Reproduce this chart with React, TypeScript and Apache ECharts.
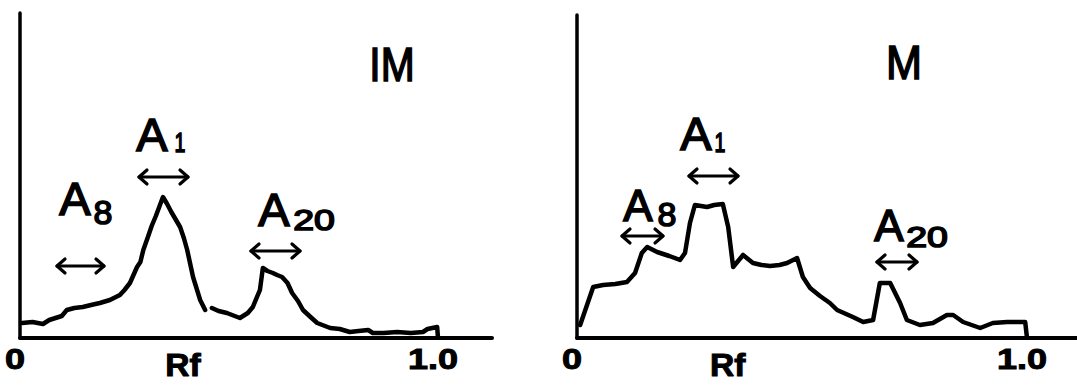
import React, { useEffect, useRef } from "react";
import * as echarts from "echarts";

// Left panel (IM) densitometry trace
const leftRf = [0.005, 0.03, 0.055, 0.07, 0.085, 0.1, 0.112, 0.13, 0.15, 0.17, 0.191, 0.215, 0.239, 0.25, 0.263, 0.28, 0.288, 0.295, 0.306, 0.315, 0.325, 0.342, 0.352, 0.362, 0.383, 0.392, 0.4, 0.414, 0.431, 0.443, 0.451, 0.459, 0.475, 0.495, 0.526, 0.545, 0.557, 0.574, 0.581, 0.592, 0.605, 0.615, 0.627, 0.64, 0.651, 0.665, 0.677, 0.695, 0.711, 0.742, 0.765, 0.789, 0.81, 0.833, 0.844, 0.87, 0.902, 0.935, 0.964, 0.975, 0.998, 1.0];
const leftDensity = [15, 16, 14, 18, 20, 22, 28, 30, 31, 33, 35, 38, 43, 48, 55, 71, 76, 88, 101, 112, 122, 141, 134, 126, 111, 100, 88, 61, 38, 28, null, 30, 27, 25, 20, 25, 31, 48, 70, 67, 65, 63, 61, 55, 45, 37, 28, 21, 15, 10, 9, 6, 7, 8, 5, 5, 6, 5, 6, 9, 11, 0];

// Right panel (M) densitometry trace
const rightRf = [0.007, 0.036, 0.058, 0.085, 0.111, 0.129, 0.144, 0.156, 0.178, 0.205, 0.229, 0.24, 0.251, 0.262, 0.289, 0.305, 0.324, 0.336, 0.347, 0.369, 0.391, 0.41, 0.429, 0.45, 0.467, 0.489, 0.502, 0.518, 0.54, 0.562, 0.578, 0.613, 0.636, 0.658, 0.673, 0.696, 0.718, 0.733, 0.762, 0.791, 0.822, 0.836, 0.858, 0.896, 0.924, 0.956, 0.996, 1.0];
const rightDensity = [13, 51, 53, 54, 56, 65, 85, 91, 86, 82, 78, 85, 115, 133, 131, 133, 134, 111, 71, 83, 75, 73, 72, 73, 75, 80, 61, 50, 42, 35, 28, 21, 16, 18, 55, 55, 35, 18, 13, 15, 23, 23, 16, 10, 15, 16, 16, 0];

const tickValues = [0, 1.0];
const tickLabels = ["0", "1.0"];
const axisTitle = "Rf";
const axisTitlePos = [0.39, 0.335];
const panelTitles = ["IM", "M"];

const FONT = "'Liberation Sans', Arial, sans-serif";

function pairs(xs: number[], ys: (number | null)[]) {
  return xs.map((x, i) => [x, ys[i] == null ? "-" : ys[i]]);
}

function txt(x: number, y: number, text: string, size: number, scaleX = 1, bold = false, stroke = 1.6) {
  return {
    type: "text",
    x,
    y,
    scaleX,
    silent: true,
    style: {
      text,
      fontSize: size,
      fontFamily: FONT,
      fontWeight: bold ? "bold" : "normal",
      fill: "#000",
      stroke: "#000",
      lineWidth: stroke,
      align: "center",
      verticalAlign: "middle",
      textAlign: "center",
      textVerticalAlign: "middle",
    },
  };
}

function arrow(x1: number, x2: number, y: number) {
  const st = { stroke: "#000", lineWidth: 3.2, fill: null, lineCap: "round", lineJoin: "round" };
  return [
    { type: "line", silent: true, shape: { x1, y1: y, x2, y2: y }, style: st },
    { type: "polyline", silent: true, shape: { points: [[x1 + 8, y - 7], [x1, y], [x1 + 8, y + 7]] }, style: st },
    { type: "polyline", silent: true, shape: { points: [[x2 - 8, y - 7], [x2, y], [x2 - 8, y + 7]] }, style: st },
  ];
}

function xAxis(gridIndex: number, max: number) {
  return {
    type: "value",
    gridIndex,
    min: 0,
    max,
    axisLine: { show: true, onZero: false, lineStyle: { color: "#000", width: 4 } },
    axisTick: { show: false },
    splitLine: { show: false },
    axisLabel: { show: false },
  };
}

function yAxis(gridIndex: number, max: number) {
  return {
    type: "value",
    gridIndex,
    min: 0,
    max,
    axisLine: { show: true, lineStyle: { color: "#000", width: 3.5 } },
    axisTick: { show: false },
    axisLabel: { show: false },
    splitLine: { show: false },
  };
}

export default function App() {
  const ref = useRef<HTMLDivElement>(null);
  useEffect(() => {
    if (!ref.current) return;
    const chart = echarts.init(ref.current, null, { renderer: "svg" });
    const lineStyle = { color: "#000", width: 4.5, join: "round", cap: "round" };
    const annotations = [
      // left panel
      txt(392, 64, panelTitles[0], 48, 0.85),
      txt(152, 134, "A", 47),
      txt(180, 142, "1", 28, 0.7),
      ...arrow(139, 188, 177),
      txt(75, 198, "A", 47),
      txt(103, 212, "8", 34),
      ...arrow(57, 104, 266),
      txt(274, 209, "A", 47),
      txt(314, 219, "20", 30, 1.25),
      ...arrow(251, 300, 251),
      // right panel
      txt(904, 63, panelTitles[1], 48, 0.9),
      txt(696, 133, "A", 47),
      txt(720, 142, "1", 28, 0.7),
      ...arrow(689, 738, 176),
      txt(638, 205, "A", 44),
      txt(667, 214, "8", 34),
      ...arrow(622, 663, 236),
      txt(889, 225, "A", 44),
      txt(927, 236, "20", 30, 1.25),
      ...arrow(877, 917, 262),
    ];
    chart.setOption({
      animation: false,
      backgroundColor: "#fff",
      grid: [
        { left: 20, top: 13, width: 472, height: 325 },
        { left: 577, top: 15, width: 500, height: 323 },
      ],
      xAxis: [xAxis(0, 472 / 418), xAxis(1, 500 / 450)],
      yAxis: [yAxis(0, 325), yAxis(1, 323)],
      series: [
        {
          type: "line",
          xAxisIndex: 0,
          yAxisIndex: 0,
          data: pairs(leftRf, leftDensity),
          showSymbol: false,
          symbol: "none",
          connectNulls: false,
          lineStyle,
        },
        {
          type: "line",
          xAxisIndex: 1,
          yAxisIndex: 1,
          data: pairs(rightRf, rightDensity),
          showSymbol: false,
          symbol: "none",
          lineStyle,
        },
      ],
      graphic: annotations,
    });
    // tick labels placed through the axes' scales
    const tickTexts: any[] = [];
    [0, 1].forEach((ax) => {
      tickValues.forEach((v, i) => {
        const px = chart.convertToPixel({ xAxisIndex: ax }, v) as number;
        tickTexts.push(txt(px - 5, 359, tickLabels[i], 30, 1.2, true, 1));
      });
      const rx = chart.convertToPixel({ xAxisIndex: ax }, axisTitlePos[ax]) as number;
      tickTexts.push(txt(rx, 365, axisTitle, 32, 1.05, true, 1));
    });
    chart.setOption({ graphic: [...annotations, ...tickTexts] });
    return () => chart.dispose();
  }, []);
  return (
    <div
      ref={ref}
      style={{ position: "absolute", left: 0, top: 0, width: 1077, height: 385, background: "#fff" }}
    />
  );
}
